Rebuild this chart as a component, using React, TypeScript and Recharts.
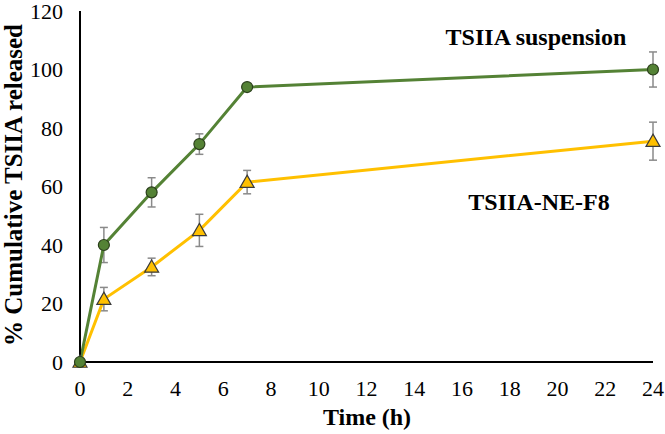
import React from 'react';
import { LineChart, Line, XAxis, YAxis, ErrorBar } from 'recharts';

const times = [0, 1, 3, 5, 7, 24];
const suspension = [0, 40, 58, 74.5, 94, 100];
const suspensionErr = [0, 6, 5, 3.5, 1, 6];
const nef8 = [0, 21.5, 32.5, 45, 61.5, 75.5];
const nef8Err = [0, 4, 3, 5.5, 4, 6.5];
const xTicks = [0, 2, 4, 6, 8, 10, 12, 14, 16, 18, 20, 22, 24];
const yTicks = [0, 20, 40, 60, 80, 100, 120];

const data = times.map((t, i) => ({
  t,
  susp: suspension[i],
  suspErr: suspensionErr[i],
  ne: nef8[i],
  neErr: nef8Err[i],
}));

const FONT = 'Liberation Serif, Times New Roman, DejaVu Serif, serif';
const GREEN = '#548235';
const YELLOW = '#FFC000';

const tickStyle = { fill: '#000', fontSize: 22, fontFamily: FONT };

const Triangle = (props: any) => {
  const { cx, cy, key } = props;
  if (cx == null || cy == null) return <g key={key} />;
  const s = 7;
  return (
    <path
      key={key}
      d={`M${cx},${cy - s} L${cx + s},${cy + s * 0.75} L${cx - s},${cy + s * 0.75} Z`}
      fill={YELLOW}
      stroke="#3a3a3a"
      strokeWidth={1.2}
    />
  );
};

export default function App() {
  return (
    <div style={{ position: 'absolute', left: 0, top: 0, width: 665, height: 434, background: '#fff', fontFamily: FONT }}>
      <LineChart width={665} height={434} data={data} margin={{ top: 11, right: 12, left: 0, bottom: 0 }}>
        <XAxis
          dataKey="t"
          type="number"
          domain={[0, 24]}
          ticks={xTicks}
          interval={0}
          height={72}
          tickLine={false}
          tickMargin={12}
          axisLine={{ stroke: '#000', strokeWidth: 2 }}
          tick={tickStyle}
        />
        <YAxis
          type="number"
          domain={[0, 120]}
          ticks={yTicks}
          interval={0}
          width={80}
          tickLine={false}
          tickMargin={11}
          axisLine={{ stroke: '#000', strokeWidth: 2 }}
          tick={tickStyle}
        />
        <Line
          dataKey="ne"
          stroke={YELLOW}
          strokeWidth={3}
          isAnimationActive={false}
          dot={Triangle}
          activeDot={false}
        >
          <ErrorBar dataKey="neErr" direction="y" width={4} stroke="#8a8a8a" strokeWidth={1.5} />
        </Line>
        <Line
          dataKey="susp"
          stroke={GREEN}
          strokeWidth={3}
          isAnimationActive={false}
          dot={{ r: 5.5, fill: GREEN, stroke: '#2b3f1c', strokeWidth: 1.2 }}
          activeDot={false}
        >
          <ErrorBar dataKey="suspErr" direction="y" width={4} stroke="#8a8a8a" strokeWidth={1.5} />
        </Line>
      </LineChart>
      <svg width={665} height={434} style={{ position: 'absolute', left: 0, top: 0, pointerEvents: 'none' }}>
        <text x={536} y={45} textAnchor="middle" style={{ fontFamily: FONT }} fontWeight="bold" fontSize={24} fill="#000">
          TSIIA suspension
        </text>
        <text x={539} y={210} textAnchor="middle" style={{ fontFamily: FONT }} fontWeight="bold" fontSize={24} fill="#000">
          TSIIA-NE-F8
        </text>
        <text x={367} y={425} textAnchor="middle" style={{ fontFamily: FONT }} fontWeight="bold" fontSize={24} fill="#000">
          Time (h)
        </text>
        <text
          x={0}
          y={0}
          transform="translate(22,185) rotate(-90)"
          textAnchor="middle"
          style={{ fontFamily: FONT }}
          fontWeight="bold"
          fontSize={25}
          fill="#000"
        >
          % Cumulative TSIIA released
        </text>
      </svg>
    </div>
  );
}
